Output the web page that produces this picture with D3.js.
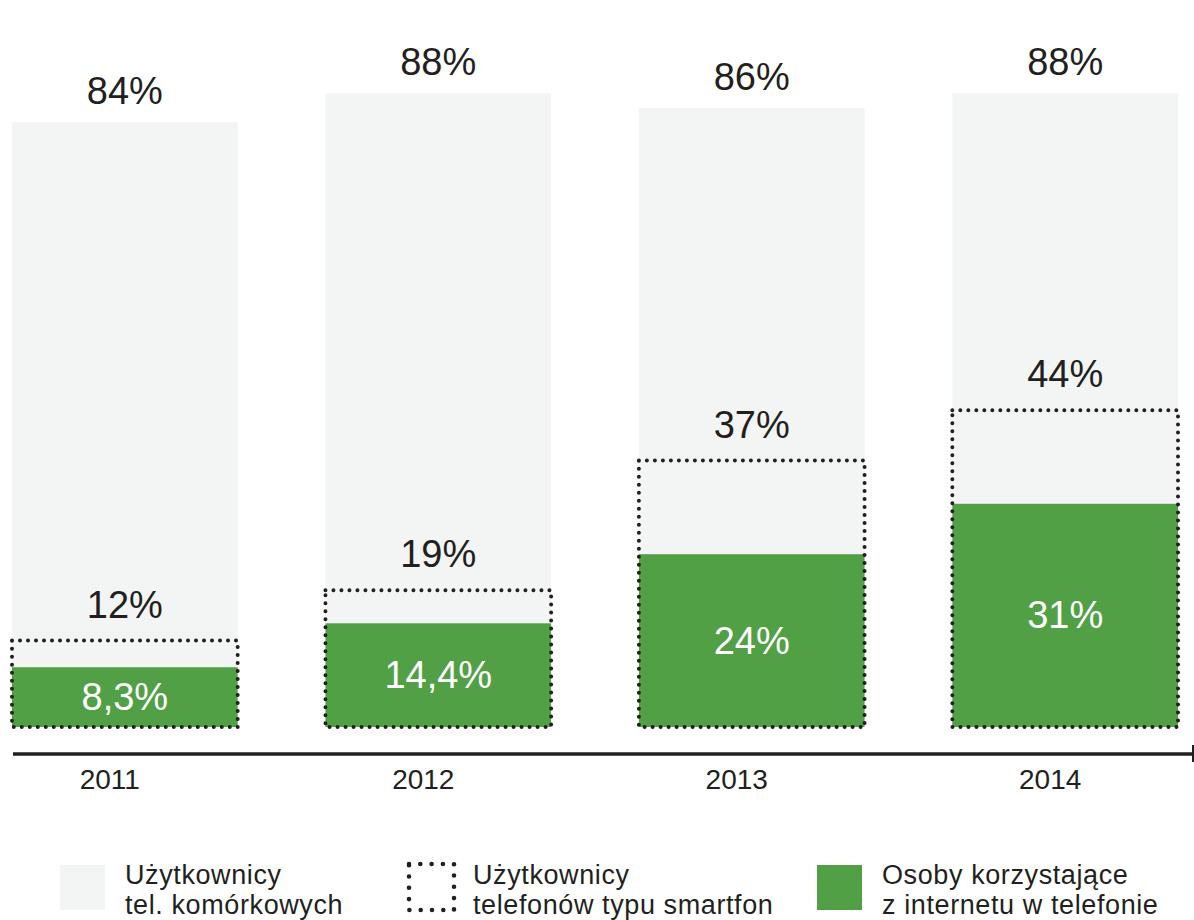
<!DOCTYPE html>
<html>
<head>
<meta charset="utf-8">
<script src="https://cdn.jsdelivr.net/npm/d3@7/dist/d3.min.js"></script>
<style>
  html, body { margin: 0; padding: 0; background: #fff; }
  svg text { font-family: "Liberation Sans", Arial, Helvetica, sans-serif; }
</style>
</head>
<body>
<svg id="chart" width="1194" height="920"></svg>
<script>
// Mobile phone usage in Poland, share of adults (%)
const years = ["2011", "2012", "2013", "2014"];
const mobileUsers = [84, 88, 86, 88];          // tel. komórkowe
const smartphoneUsers = [12, 19, 37, 44];      // smartfony
const mobileInternet = [8.3, 14.4, 24, 31];    // internet w telefonie

const legendLabels = [
  ["Użytkownicy", "tel. komórkowych"],
  ["Użytkownicy", "telefonów typu smartfon"],
  ["Osoby korzystające", "z internetu w telefonie"]
];

const GRAY = "#f3f5f4";
const GREEN = "#52a046";
const INK = "#231f20";

const fmt = v => String(v).replace(".", ",") + "%";

const svg = d3.select("#chart");

const x = d3.scaleBand()
  .domain(years)
  .range([12, 1178])
  .paddingInner(0.28)
  .paddingOuter(0);

const baseY = 727;
const y = d3.scaleLinear().domain([0, 100]).range([baseY, baseY - 720]);

const rows = years.map((yr, i) => ({
  year: yr,
  total: mobileUsers[i],
  smart: smartphoneUsers[i],
  net: mobileInternet[i]
}));

const g = svg.append("g");

// mobile users (light bars)
g.selectAll("rect.total").data(rows).join("rect")
  .attr("class", "total")
  .attr("x", d => x(d.year))
  .attr("y", d => y(d.total))
  .attr("width", x.bandwidth())
  .attr("height", d => y(0) - y(d.total))
  .attr("fill", GRAY);

// mobile internet users (green)
g.selectAll("rect.net").data(rows).join("rect")
  .attr("class", "net")
  .attr("x", d => x(d.year))
  .attr("y", d => y(d.net))
  .attr("width", x.bandwidth())
  .attr("height", d => y(0) - y(d.net))
  .attr("fill", GREEN);

// smartphone users (dotted outline)
g.selectAll("rect.smart").data(rows).join("rect")
  .attr("class", "smart")
  .attr("x", d => x(d.year))
  .attr("y", d => y(d.smart))
  .attr("width", x.bandwidth())
  .attr("height", d => y(0) - y(d.smart))
  .attr("fill", "none")
  .attr("stroke", INK)
  .attr("stroke-width", 4)
  .attr("stroke-linecap", "round")
  .attr("stroke-dasharray", "0 8");

const cx = d => x(d.year) + x.bandwidth() / 2;

// value labels
g.selectAll("text.total").data(rows).join("text")
  .attr("class", "total")
  .attr("x", cx)
  .attr("y", d => y(d.total) - 18)
  .attr("text-anchor", "middle")
  .attr("font-size", 38)
  .attr("fill", INK)
  .text(d => fmt(d.total));

g.selectAll("text.smart").data(rows).join("text")
  .attr("class", "smart")
  .attr("x", cx)
  .attr("y", d => y(d.smart) - 23)
  .attr("text-anchor", "middle")
  .attr("font-size", 38)
  .attr("fill", INK)
  .text(d => fmt(d.smart));

g.selectAll("text.net").data(rows).join("text")
  .attr("class", "net")
  .attr("x", cx)
  .attr("y", d => (y(d.net) + y(0)) / 2 + 13)
  .attr("text-anchor", "middle")
  .attr("font-size", 38)
  .attr("fill", "#fff")
  .text(d => fmt(d.net));

// baseline axis
const axisY = 754;
svg.append("line")
  .attr("x1", 13).attr("x2", 1193)
  .attr("y1", axisY).attr("y2", axisY)
  .attr("stroke", INK).attr("stroke-width", 3.6);
svg.append("line")
  .attr("x1", 1193).attr("x2", 1193)
  .attr("y1", axisY - 9).attr("y2", axisY + 8)
  .attr("stroke", INK).attr("stroke-width", 2);

svg.selectAll("text.year").data(years).join("text")
  .attr("class", "year")
  .attr("x", d => x(d) + x.bandwidth() / 2 - 15)
  .attr("y", 789)
  .attr("text-anchor", "middle")
  .attr("font-size", 28)
  .attr("fill", INK)
  .text(d => d);

// legend
const legend = svg.append("g");
const legendX = [60, 407, 817];
const textX = [125, 473, 882];

legend.append("rect")
  .attr("x", legendX[0]).attr("y", 865)
  .attr("width", 45).attr("height", 45)
  .attr("fill", GRAY);

legend.append("rect")
  .attr("x", legendX[1] + 2).attr("y", 864)
  .attr("width", 45).attr("height", 46)
  .attr("fill", "none")
  .attr("stroke", INK)
  .attr("stroke-width", 4.6)
  .attr("stroke-linecap", "round")
  .attr("stroke-dasharray", "0 11.3");

legend.append("rect")
  .attr("x", legendX[2]).attr("y", 865)
  .attr("width", 45).attr("height", 45)
  .attr("fill", GREEN);

legendLabels.forEach((lines, i) => {
  const t = legend.append("text")
    .attr("x", textX[i])
    .attr("y", 884)
    .attr("font-size", 27)
    .attr("letter-spacing", 0.6)
    .attr("fill", INK);
  lines.forEach((ln, j) => {
    t.append("tspan")
      .attr("x", textX[i])
      .attr("dy", j === 0 ? 0 : 30)
      .text(ln);
  });
});
</script>
</body>
</html>
